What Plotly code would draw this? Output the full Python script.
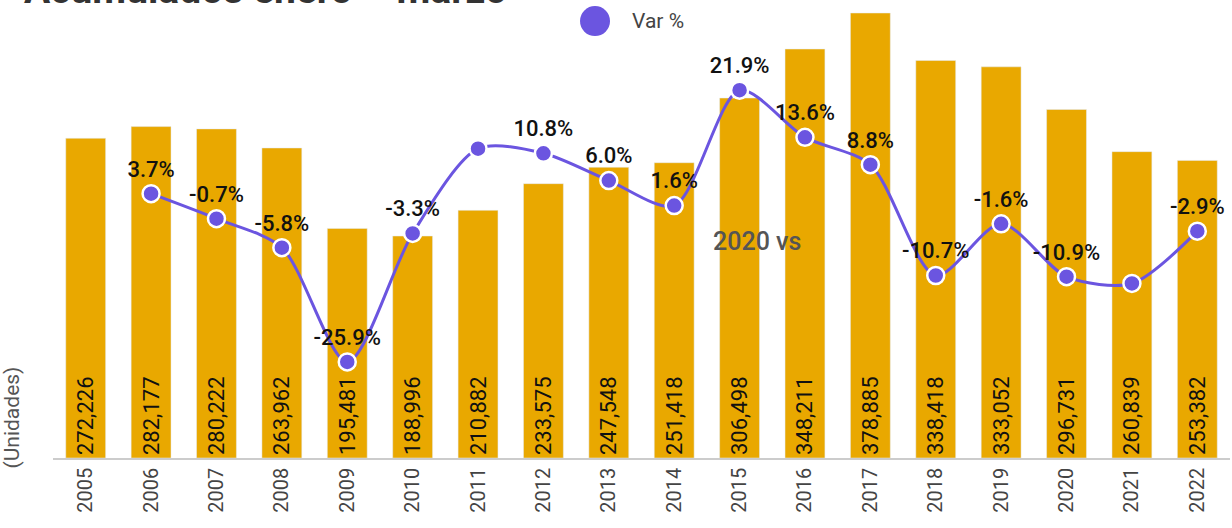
import plotly.graph_objects as go

years = [str(y) for y in range(2005, 2023)]
unidades = [272226, 282177, 280222, 263962, 195481, 188996, 210882, 233575, 247548,
            251418, 306498, 348211, 378885, 338418, 333052, 296731, 260839, 253382]
var_pct = [None, 3.7, -0.7, -5.8, -25.9, -3.3, 11.6, 10.8, 6.0, 1.6, 21.9, 13.6, 8.8,
           -10.7, -1.6, -10.9, -12.1, -2.9]
# labels the original does not show (they overlap)
hidden = ['2011', '2021']

bar_color = '#E9A800'
line_color = '#6B55E0'

bar_text = [f'{v:,}' for v in unidades]
pct_text = ['' if (v is None or y in hidden) else f'{v:.1f}%' for y, v in zip(years, var_pct)]

fig = go.Figure()
fig.add_trace(go.Bar(x=years, y=unidades, marker_color=bar_color, text=bar_text,
                     textposition='inside', insidetextanchor='start', textangle=-90,
                     textfont=dict(size=22, color='#111', family='Roboto'),
                     showlegend=False, hoverinfo='x+y'))
fig.add_trace(go.Scatter(x=years, y=var_pct, yaxis='y2', mode='lines+markers+text',
                         line=dict(color=line_color, width=3, shape='spline', smoothing=0.8),
                         marker=dict(size=17, color=line_color, line=dict(color='white', width=2.5)),
                         text=pct_text, textposition='top center',
                         textfont=dict(size=22, color='#111', family='Roboto', weight=500),
                         showlegend=False, cliponaxis=False))

fig.update_layout(
    width=1232, height=528,
    margin=dict(l=53, r=2, t=10, b=70),
    plot_bgcolor='white', paper_bgcolor='white',
    font=dict(family='Roboto', color='#444'),
    bargap=0.39,
    showlegend=False,
    xaxis=dict(type='category', range=[-0.5, 17.5], tickangle=-90,
               tickfont=dict(size=20, color='#444'),
               showline=True, linecolor='#cccccc', linewidth=1.5, showgrid=False),
    yaxis=dict(range=[0, 381440], visible=False, showgrid=False),
    yaxis2=dict(range=[-42.8, 36.0], overlaying='y', visible=False, showgrid=False),
    shapes=[
        # legend dot for "Var %"
        dict(type='circle', xref='paper', yref='paper', xsizemode='pixel', ysizemode='pixel',
             xanchor=0.4605, yanchor=0.9754, x0=-15, x1=15, y0=-15, y1=15,
             fillcolor=line_color, line=dict(width=0)),
    ],
    annotations=[
        dict(text='<b>Acumulados enero – marzo</b>', xref='paper', yref='paper',
             x=-0.0263, y=1.0, xanchor='left', yanchor='bottom', yshift=-5, showarrow=False,
             font=dict(size=39, color='#333')),
        dict(text='Var %', xref='paper', yref='paper', x=0.4902, y=0.9754,
             xanchor='left', yanchor='middle', showarrow=False,
             font=dict(size=21, color='#444')),
        dict(text='(Unidades)', xref='paper', yref='paper', x=-0.035, y=0.09,
             xanchor='center', yanchor='middle', textangle=-90, showarrow=False,
             font=dict(size=21, color='#555')),
        dict(text='2020 vs', xref='paper', yref='paper', x=0.598, y=0.484,
             xanchor='center', yanchor='middle', showarrow=False,
             font=dict(size=25, color='#555', weight=500)),
    ],
)

fig.write_html('out.html', config={'displayModeBar': False},
               post_script="document.body.style.margin='0';")
